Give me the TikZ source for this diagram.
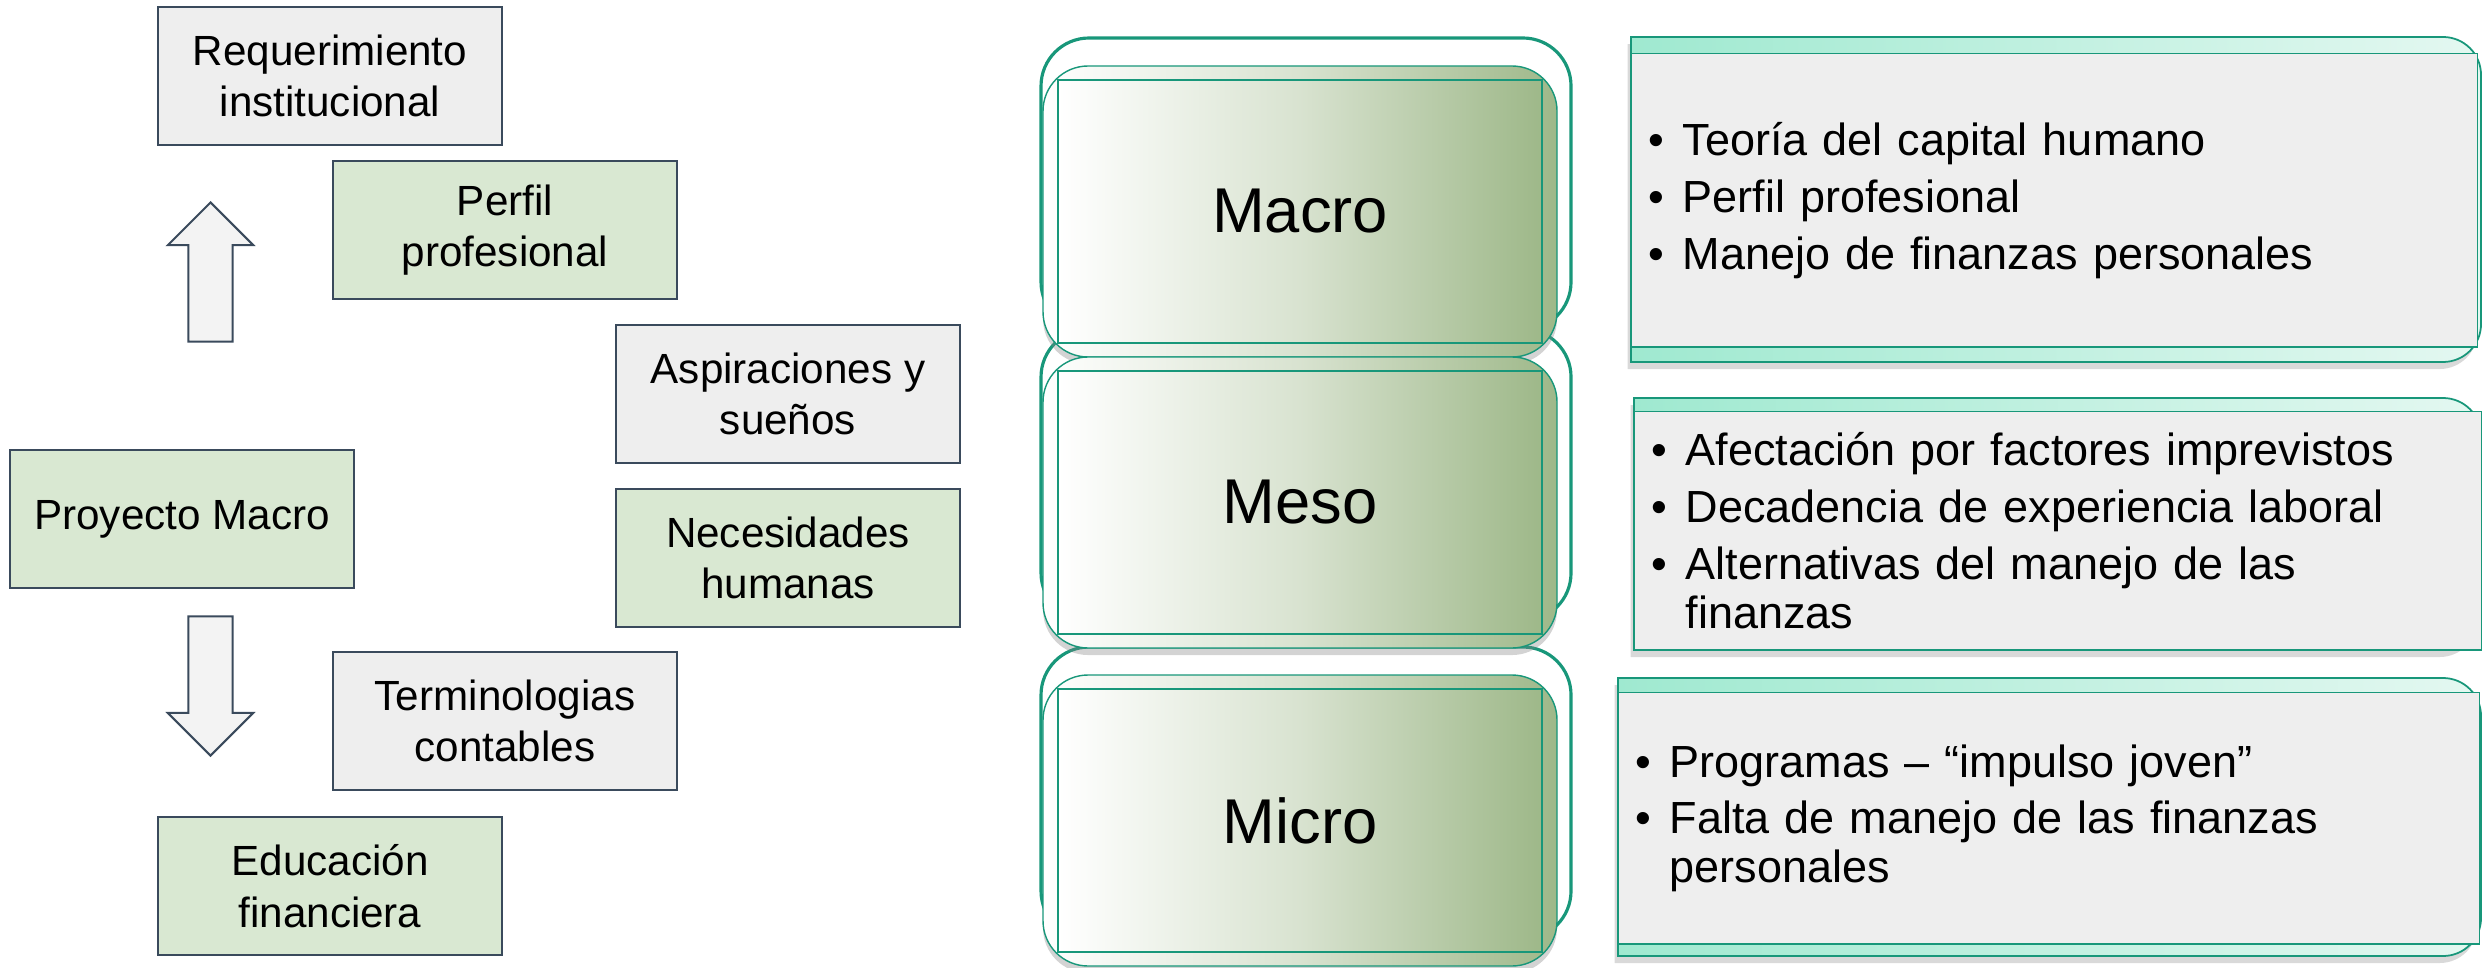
\documentclass[tikz,border=0pt]{standalone}
\usepackage{fontspec}
\setmainfont{Liberation Sans}
\usepackage{xcolor}
\usepackage{tikz}
\usetikzlibrary{shapes.arrows, shadows}

\definecolor{cajagris}{HTML}{EEEEEE}
\definecolor{cajaverde}{HTML}{D9E8D2}
\definecolor{borde}{HTML}{3A4A5C}
\definecolor{verdeazul}{HTML}{18977A}
\definecolor{oliva}{HTML}{9EB889}
\definecolor{menta}{HTML}{9FE9D0}
\definecolor{mentaclaro}{HTML}{E4F8F1}

\newcommand{\punto}{\makebox[0.34cm][l]{•}}
\newcommand{\sangria}{\hspace*{0.34cm}}

\tikzset{
  caja/.style={draw=borde, line width=0.6pt, minimum width=3.43cm, minimum height=1.38cm,
    align=center, font=\fontsize{12}{14.6}\selectfont},
  grisbox/.style={caja, fill=cajagris},
  verdebox/.style={caja, fill=cajaverde},
  flecha/.style={draw=borde, fill=cajagris!70!white, line width=0.6pt, single arrow,
    single arrow head extend=0.205cm, single arrow tip angle=90, single arrow head indent=0pt,
    inner sep=0.21cm, minimum height=1.39cm, anchor=tip},
  marco/.style={draw=verdeazul, line width=0.9pt, rounded corners=0.48cm},
  fondo/.style={draw=verdeazul, line width=0.4pt, rounded corners=0.45cm,
    left color=white, right color=oliva, middle color=oliva!40,
    drop shadow={shadow xshift=0pt, shadow yshift=-2pt, opacity=0.35}},
  nivel/.style={draw=verdeazul, line width=0.4pt, left color=white, right color=oliva,
    middle color=oliva!40, minimum width=4.84cm, minimum height=2.63cm,
    font=\fontsize{18}{21}\selectfont},
  pestana/.style={draw=verdeazul, line width=0.5pt, left color=menta, right color=mentaclaro,
    drop shadow={shadow xshift=-1pt, shadow yshift=-2pt, opacity=0.3}},
  itembox/.style={anchor=north west, draw=verdeazul, line width=0.4pt, fill=cajagris,
    inner xsep=0.17cm, align=left, font=\fontsize{12.8}{13.9}\selectfont}
}

\begin{document}
\begin{tikzpicture}[x=0.01cm, y=-0.01cm]
\useasboundingbox (0,0) rectangle (2483,967);

% columna izquierda
\node[grisbox] (req) at (330,76) {Requerimiento\\institucional};
\node[verdebox] (perfil) at (505,230) {Perfil\\profesional};
\node[grisbox] (aspira) at (788,394) {Aspiraciones y\\sueños};
\node[verdebox] (proyecto) at (182,519) {Proyecto Macro};
\node[verdebox] (necesidad) at (788,558) {Necesidades\\humanas};
\node[grisbox] (termino) at (505,721) {Terminologias\\contables};
\node[verdebox] (educa) at (330,886) {Educación\\financiera};

% flechas
\node[flecha, shape border rotate=90] (subir) at (210.5,201) {};
\node[flecha, shape border rotate=270] (bajar) at (210.5,757) {};

% marcos de los niveles
\foreach \dy in {0,291,609} {
    \draw[marco] (1041,38+\dy) rectangle (1571,330+\dy);
}
% niveles
\foreach \dy/\lbl/\nm in {0/Macro/macro, 291/Meso/meso, 609/Micro/micro} {
    \draw[fondo] (1043,66+\dy) rectangle (1557,357+\dy);
    \node[nivel] (\nm) at (1300,211.5+\dy) {\lbl};
}

% pestanas detras de las listas
\foreach \ya/\yb/\xl in {37/362/1631, 398/650/1634, 678/956/1618} {
    \draw[pestana] (\xl,\ya) -- (2443,\ya) to[out=0,in=90] (2481,\ya+38)
        -- (2481,\yb-38) to[out=270,in=0] (2443,\yb) -- (\xl,\yb) -- cycle;
}

% listas
\node[itembox, text width=8.11cm, minimum height=2.93cm] (listamacro) at (1631,53)
    {\punto Teoría del capital humano\\[0.08cm] \punto Perfil profesional\\[0.08cm]
     \punto Manejo de finanzas personales};
\node[itembox, text width=8.12cm, minimum height=2.38cm] (listameso) at (1634,411)
    {\punto Afectación por factores imprevistos\\[0.08cm]
     \punto Decadencia de experiencia laboral\\[0.08cm]
     \punto Alternativas del manejo de las\\ \sangria finanzas};
\node[itembox, text width=8.26cm, minimum height=2.51cm] (listamicro) at (1618,692)
    {\punto Programas – “impulso joven”\\[0.08cm] \punto Falta de manejo de las finanzas\\
     \sangria personales};
\end{tikzpicture}
\end{document}
